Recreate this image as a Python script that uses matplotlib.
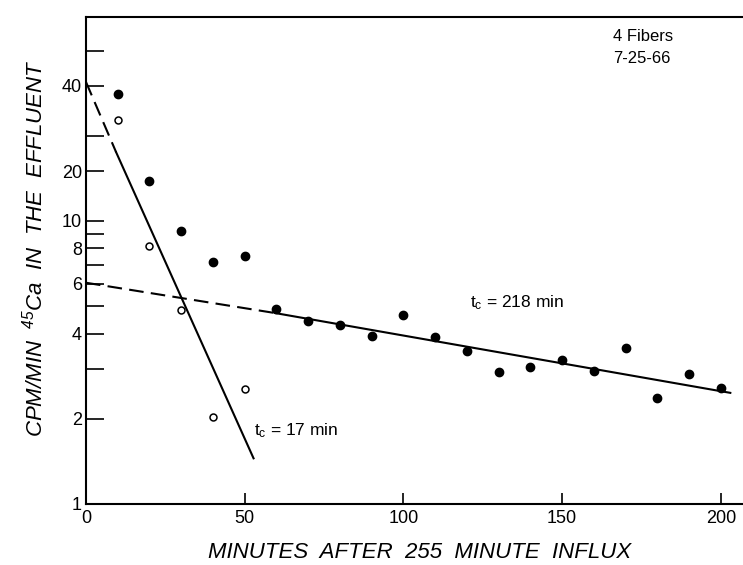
import numpy as np
import matplotlib
matplotlib.use("Agg")
import matplotlib.pyplot as plt

plt.rcParams['font.family'] = ['Liberation Sans', 'DejaVu Sans']
plt.rcParams['mathtext.fontset'] = 'custom'
plt.rcParams['mathtext.rm'] = 'Liberation Sans'

# filled circles: total efflux
t_full = [10, 20, 30, 40, 50, 60, 70, 80, 90, 100, 110, 120, 130, 140, 150, 160, 170, 180, 190, 200]
cpm_full = [28.1, 13.9, 9.2, 7.15, 7.5, 4.9, 4.43, 4.3, 3.92, 4.65, 3.9, 3.47, 2.93, 3.05, 3.23, 2.95, 3.56, 2.37, 2.88, 2.57]

# open circles: fast component (after subtracting the slow line)
t_fast = [10, 20, 30, 40, 50]
cpm_fast = [22.7, 8.15, 4.85, 2.03, 2.55]

# fitted lines, end points
fast_dash_t = [0, 9.5]
fast_dash_y = [31.0, 17.5]
fast_solid_t = [9.5, 52.8]
fast_solid_y = [17.5, 1.45]
slow_dash_t = [0, 59.5]
slow_dash_y = [6.05, 4.73]
slow_solid_t = [59.5, 203]
slow_solid_y = [4.73, 2.47]

# y ticks as drawn (labels on the original sit at 15 -> "20", 30 -> "40")
ytick_pos = [1, 2, 3, 4, 5, 6, 7, 8, 9, 10, 15, 20, 30, 40]
ytick_lab = ['1', '2', '', '4', '', '6', '', '8', '', '10', '20', '', '40', '']
xtick_pos = [0, 50, 100, 150, 200]

fig = plt.figure(figsize=(7.43, 5.65), dpi=100)
ax = fig.add_axes([0.1157, 0.108, 0.8843, 0.862])
ax.set_yscale('log')
ax.set_xlim(0, 207)
ax.set_ylim(1, 52.6)

ax.plot(fast_dash_t, fast_dash_y, color='black', lw=1.5, dashes=(7, 3.5))
ax.plot(fast_solid_t, fast_solid_y, color='black', lw=1.5)
ax.plot(slow_dash_t, slow_dash_y, color='black', lw=1.5, dashes=(7, 3.5))
ax.plot(slow_solid_t, slow_solid_y, color='black', lw=1.5)

ax.plot(t_full, cpm_full, 'o', color='black', ms=6, ls='none')
ax.plot(t_fast, cpm_fast, 'o', mfc='white', mec='black', mew=1.1, ms=5, ls='none')

ax.yaxis.set_minor_locator(matplotlib.ticker.NullLocator())
ax.set_yticks(ytick_pos)
ax.set_yticklabels(ytick_lab)
ax.set_xticks(xtick_pos)
ax.set_xticklabels([str(v) for v in xtick_pos])
ax.tick_params(axis='y', direction='in', length=13, width=1.2, labelsize=13, pad=3)
ax.tick_params(axis='x', direction='in', length=8, width=1.2, labelsize=13, pad=4)

ax.spines['right'].set_visible(False)
for s in ['left', 'top', 'bottom']:
    ax.spines[s].set_linewidth(1.5)

ax.text(53, 1.82, r'$\mathregular{t_c}$ = 17 min', fontsize=12.5, va='center', ha='left')
ax.text(121, 5.13, r'$\mathregular{t_c}$ = 218 min', fontsize=12.5, va='center', ha='left')
ax.text(166, 45, '4 Fibers', fontsize=12, va='center', ha='left')
ax.text(166, 37.5, '7-25-66', fontsize=12, va='center', ha='left')

fig.text(0.047, 0.561, r'CPM/MIN  $\mathregular{^{45}}$Ca  IN  THE  EFFLUENT', rotation=90,
         fontsize=16, style='italic', va='center', ha='center')
fig.text(0.565, 0.022, 'MINUTES  AFTER  255  MINUTE  INFLUX', fontsize=16, style='italic',
         va='center', ha='center')

fig.savefig('out.png', dpi=100)
